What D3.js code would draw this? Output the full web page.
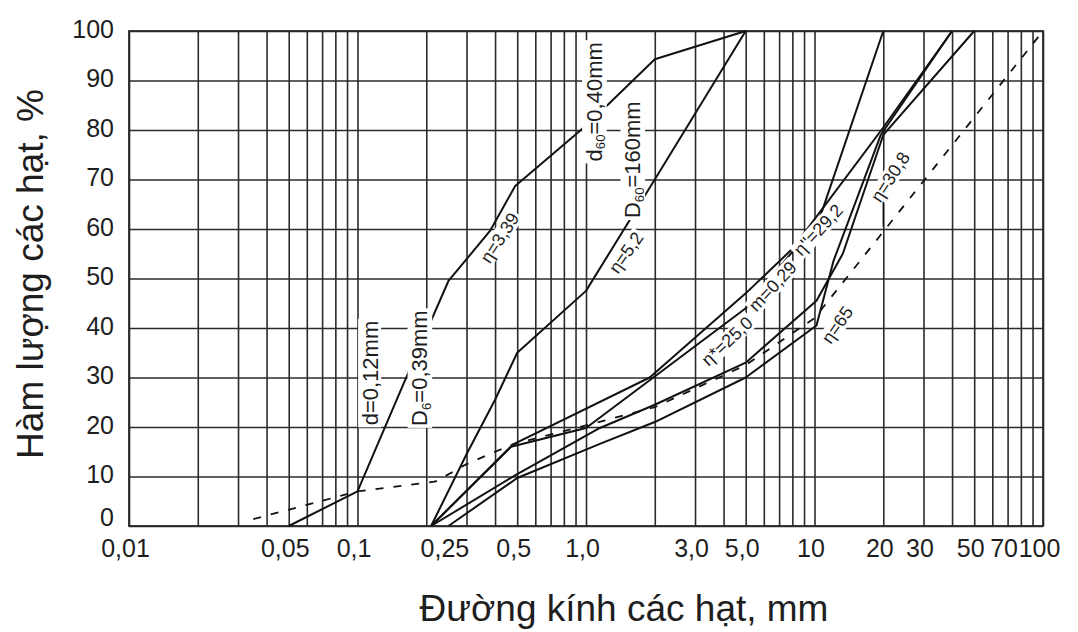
<!DOCTYPE html>
<html>
<head>
<meta charset="utf-8">
<script src="https://cdn.jsdelivr.net/npm/d3@7/dist/d3.min.js"></script>
<style>
  html, body { margin: 0; padding: 0; background: #ffffff; }
  svg { display: block; }
  text { font-family: "Liberation Sans", Arial, Helvetica, sans-serif; fill: #1e1e1e; }
</style>
</head>
<body>
<svg id="chart" width="1078" height="632"></svg>
<script>
// ---- axis ticks -------------------------------------------------------
const xTickValues = [0.01, 0.05, 0.1, 0.25, 0.5, 1, 3, 5, 10, 20, 30, 50, 70, 100];
const xTickText   = ["0,01", "0,05", "0,1", "0,25", "0,5", "1,0", "3,0", "5,0", "10", "20", "30", "50", "70", "100"];
const yTickValues = [0, 10, 20, 30, 40, 50, 60, 70, 80, 90, 100];

// ---- grading curves: [particle size (mm), passing (%)] ---------------
const curveEta339 = [[0.05, 0], [0.1, 7], [0.16, 29], [0.25, 49.5], [0.38, 59.6], [0.49, 68.7],
                     [0.95, 80], [1.24, 85], [2.0, 94.3], [5.0, 100]];
const curveEta52  = [[0.21, 0], [0.3, 14.5], [0.4, 25.5], [0.5, 35], [1.0, 47.5], [2.0, 70], [5.0, 100]];
const curveEta292 = [[0.21, 0], [0.48, 16.5], [1.9, 30], [5, 47], [8, 56], [20, 80.5], [40, 100]];
const curveEta250 = [[0.21, 0], [0.47, 16], [1.0, 19.8], [5, 44], [10.5, 62], [20, 100]];
const curveEta308 = [[0.21, 0], [0.5, 10.5], [1.15, 19.8], [2, 24.5], [5, 33], [10.2, 45.5],
                     [13.3, 55], [20, 79], [50, 100]];
const curveEta65  = [[0.25, 0], [0.5, 9.7], [1.15, 16.6], [2, 21], [5, 30], [10.2, 40.5],
                     [12.1, 53.5], [19.5, 79], [40, 100]];
const curveDashed = [[0.035, 1.4], [0.1, 7], [0.22, 9], [0.3, 12.5], [0.4, 15], [0.48, 16.5],
                     [1.25, 21.5], [2, 24], [5, 32.5], [10, 42], [100, 100]];

const solidCurves = [curveEta339, curveEta52, curveEta292, curveEta250, curveEta308, curveEta65];

// ---- annotations on the curves ---------------------------------------
// parts: [text, isSubscript]
const notes = [
  { parts: [["η=3,39"]],                         at: [0.42, 58.2],  rot: -57, size: 18 },
  { parts: [["d"], ["60", 1], ["=0,40mm"]],       at: [1.08, 85.7],  rot: -90, size: 22 },
  { parts: [["D"], ["60", 1], ["=160mm"]],        at: [1.59, 74.0],  rot: -90, size: 22 },
  { parts: [["η=5,2"]],                          at: [1.5, 55.2],   rot: -55, size: 18 },
  { parts: [["d=0,12mm"]],                       at: [0.113, 30.9], rot: -90, size: 22 },
  { parts: [["D"], ["6", 1], ["=0,39mm"]],        at: [0.186, 31.9], rot: -90, size: 22 },
  { parts: [["η*=25,0"]],                        at: [4.15, 37.3],  rot: -43, size: 18 },
  { parts: [["m=0,29"]],                         at: [6.57, 48.4],  rot: -47, size: 18 },
  { parts: [["η''=29,2"]],                       at: [10.4, 59.8],  rot: -47, size: 18 },
  { parts: [["η=30,8"]],                         at: [21.5, 70.5],  rot: -57, size: 18 },
  { parts: [["η=65"]],                           at: [12.6, 40.6],  rot: -55, size: 18 }
];
const leaders = [[[20, 65.5], [20, 60.5]]];

// ---- layout -------------------------------------------------------------
const svg = d3.select("#chart");
const x = d3.scaleLog().domain([0.01, 100]).range([129, 1043]);
const y = d3.scaleLinear().domain([0, 100]).range([526, 31]);
const plotW = x.range()[1] - x.range()[0];
const plotH = y.range()[0] - y.range()[1];
const gridColor = "#2b2b2b";
const inkColor = "#111111";

svg.append("rect").attr("width", 1078).attr("height", 632).attr("fill", "#ffffff");

// vertical log grid (1..9 in every decade)
const xGrid = svg.append("g")
  .attr("transform", `translate(0,${y(0)})`)
  .call(d3.axisBottom(x).tickValues(x.ticks()).tickSize(-plotH).tickFormat(""));
xGrid.select(".domain").remove();
xGrid.selectAll(".tick line").attr("stroke", gridColor).attr("stroke-width", 1.6);

// horizontal grid + y labels
const yAxis = svg.append("g")
  .attr("transform", `translate(${x(0.01)},0)`)
  .call(d3.axisLeft(y).tickValues(yTickValues).tickSize(-plotW).tickPadding(15));
yAxis.select(".domain").remove();
yAxis.selectAll(".tick line").attr("stroke", gridColor).attr("stroke-width", 1.6);
yAxis.selectAll(".tick text")
  .style("font-size", "25px").attr("fill", "#1e1e1e")
  .attr("dy", d => d === 0 ? "-0.04em" : "0.24em");

// x labels
const xAxis = svg.append("g")
  .attr("transform", `translate(0,${y(0)})`)
  .call(d3.axisBottom(x).tickValues(xTickValues).tickSize(0).tickPadding(13)
    .tickFormat((d, i) => xTickText[i]));
xAxis.select(".domain").remove();
xAxis.selectAll(".tick text").style("font-size", "25px").attr("fill", "#1e1e1e").attr("dx", "-4");

// frame
svg.append("rect")
  .attr("x", x(0.01)).attr("y", y(100)).attr("width", plotW).attr("height", plotH)
  .attr("fill", "none").attr("stroke", gridColor).attr("stroke-width", 1.8);

// curves
const line = d3.line().x(d => x(d[0])).y(d => y(d[1]));
svg.append("g").selectAll("path").data(solidCurves).join("path")
  .attr("d", line).attr("fill", "none")
  .attr("stroke", inkColor).attr("stroke-width", 2).attr("stroke-linejoin", "round");
svg.append("path").datum(curveDashed)
  .attr("d", line).attr("fill", "none")
  .attr("stroke", inkColor).attr("stroke-width", 1.8).attr("stroke-dasharray", "8,10");

// annotations (white box behind each label)
const noteG = svg.append("g");
notes.forEach(n => {
  const g = noteG.append("g")
    .attr("transform", `translate(${x(n.at[0])},${y(n.at[1])}) rotate(${n.rot})`);
  const t = g.append("text")
    .attr("text-anchor", "middle").attr("dominant-baseline", "central")
    .style("font-size", n.size + "px");
  let shifted = false;
  n.parts.forEach(p => {
    const ts = t.append("tspan").text(p[0]);
    if (p[1]) {
      ts.style("font-size", (n.size * 0.6) + "px").attr("dy", n.size * 0.3);
      shifted = true;
    } else if (shifted) {
      ts.attr("dy", -n.size * 0.3);
      shifted = false;
    }
  });
  const bb = t.node().getBBox();
  g.insert("rect", "text")
    .attr("x", bb.x - 2).attr("y", bb.y + 1)
    .attr("width", bb.width + 4).attr("height", bb.height - 2)
    .attr("fill", "#ffffff");
});
svg.append("g").selectAll("line").data(leaders).join("line")
  .attr("x1", d => x(d[0][0])).attr("y1", d => y(d[0][1]))
  .attr("x2", d => x(d[1][0])).attr("y2", d => y(d[1][1]))
  .attr("stroke", inkColor).attr("stroke-width", 1.4);

// axis titles
svg.append("text")
  .attr("x", 624).attr("y", 621).attr("text-anchor", "middle")
  .style("font-size", "37px")
  .text("Đường kính các hạt, mm");
svg.append("text")
  .attr("transform", "translate(43,274) rotate(-90)")
  .attr("text-anchor", "middle")
  .style("font-size", "37px")
  .text("Hàm lượng các hạt, %");
</script>
</body>
</html>
